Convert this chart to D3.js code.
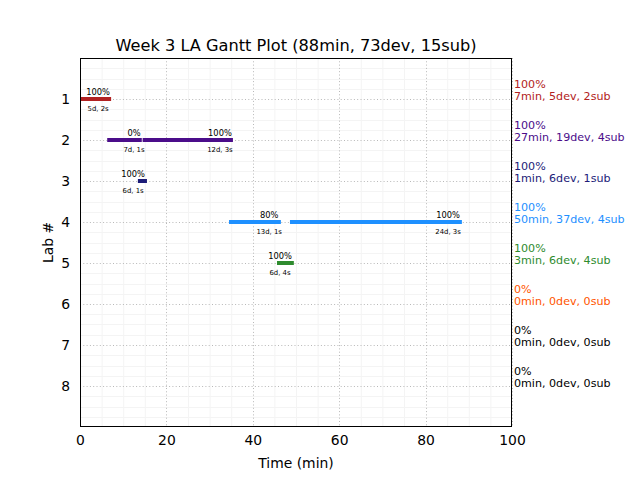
<!DOCTYPE html>
<html><head><meta charset="utf-8">
<script src="https://cdn.jsdelivr.net/npm/d3@7"></script>
<style>body{margin:0;background:#fff;}svg{display:block;font-family:"DejaVu Sans",sans-serif;}</style>
</head><body>
<script>
const labs = [1,2,3,4,5,6,7,8];
const labColors = ["#b22222","#4b0d8a","#1c1c78","#1e90ff","#2e8b2e","#ff5500","#000000","#000000"];
const labPct = ["100%","100%","100%","100%","100%","0%","0%","0%"];
const labMin = [7,27,1,50,3,0,0,0];
const labDev = [5,19,6,37,6,0,0,0];
const labSub = [2,4,1,4,4,0,0,0];

const segLab = [1,2,2,3,4,4,5];
const segStart = [0,6.3,14.5,13.4,34.5,48.6,45.6];
const segEnd = [7.2,14.3,35.4,15.5,46.5,88.4,49.5];
const segPct = ["100%","0%","100%","100%","80%","100%","100%"];
const segDev = [5,7,12,6,13,24,6];
const segSub = [2,1,3,1,1,3,4];
const segLabelAt = [4.2,12.5,32.4,12.3,43.8,85.2,46.3];

const xTicks = [0,20,40,60,80,100];
const yTicks = [1,2,3,4,5,6,7,8];
const title = "Week 3 LA Gantt Plot (88min, 73dev, 15sub)";

const W=640,H=480, L=80,R=512,T=58,B=427;
const svg = d3.select("body").append("svg").attr("width",W).attr("height",H);
const x = d3.scaleLinear().domain([0,100]).range([L,R]);
const y = d3.scaleLinear().domain([0,9]).range([T,B]);

// minor grid
const g = svg.append("g");
g.selectAll(".mx").data(d3.range(0,101,5).filter(v=>v%20!==0)).enter().append("line")
 .attr("x1",d=>x(d)+0.5).attr("x2",d=>x(d)+0.5).attr("y1",T).attr("y2",B)
 .attr("stroke","#f4f4f4").attr("stroke-width",1);
g.selectAll(".my").data(d3.range(0,9.01,0.25).filter(v=>Math.abs(v-Math.round(v))>0.01)).enter().append("line")
 .attr("y1",d=>Math.round(y(d))+0.5).attr("y2",d=>Math.round(y(d))+0.5).attr("x1",L).attr("x2",R)
 .attr("stroke","#f4f4f4").attr("stroke-width",1);
// major grid
g.selectAll(".gx").data(xTicks).enter().append("line")
 .attr("x1",d=>Math.round(x(d))+0.5).attr("x2",d=>Math.round(x(d))+0.5).attr("y1",T).attr("y2",B)
 .attr("stroke","#b0b0b0").attr("stroke-width",0.9).attr("stroke-dasharray","1,2.3");
g.selectAll(".gy").data(yTicks).enter().append("line")
 .attr("y1",d=>Math.round(y(d))+0.5).attr("y2",d=>Math.round(y(d))+0.5).attr("x1",L).attr("x2",R)
 .attr("stroke","#b0b0b0").attr("stroke-width",0.9).attr("stroke-dasharray","1,2.3");

// bars
const segs = segLab.map((l,i)=>({lab:l,s:segStart[i],e:segEnd[i],pct:segPct[i],dev:segDev[i],sub:segSub[i],la:segLabelAt[i]}));
svg.selectAll(".bar").data(segs).enter().append("rect")
 .attr("x",d=>x(d.s)).attr("width",d=>x(d.e)-x(d.s))
 .attr("y",d=>y(d.lab)-2).attr("height",4)
 .attr("fill",d=>labColors[d.lab-1]);
svg.selectAll(".pl").data(segs).enter().append("text")
 .attr("x",d=>x(d.la)).attr("y",d=>y(d.lab)-4.5).attr("text-anchor","middle")
 .attr("font-size",8.3).attr("fill","#000").text(d=>d.pct);
svg.selectAll(".dl").data(segs).enter().append("text")
 .attr("x",d=>x(d.la)).attr("y",d=>y(d.lab)+11.5).attr("text-anchor","middle")
 .attr("font-size",6.9).attr("fill","#000").text(d=>`${d.dev}d, ${d.sub}s`);

// frame
svg.append("rect").attr("x",L+0.5).attr("y",T+0.5).attr("width",R-L-1).attr("height",B-T-1)
 .attr("fill","none").attr("stroke","#000").attr("stroke-width",1);

// axes
const xa = svg.append("g").attr("transform",`translate(0,${B})`)
 .call(d3.axisBottom(x).tickValues(xTicks).tickSize(0).tickPadding(8));
xa.select(".domain").remove();
xa.selectAll("text").attr("font-size",13.9).attr("font-family","DejaVu Sans").attr("fill","#000");
const ya = svg.append("g").attr("transform",`translate(${L},0)`)
 .call(d3.axisLeft(y).tickValues(yTicks).tickSize(0).tickPadding(10));
ya.select(".domain").remove();
ya.selectAll("text").attr("font-size",13.9).attr("font-family","DejaVu Sans").attr("fill","#000");

// right texts
labs.forEach((l,i)=>{
  const t = svg.append("text").attr("x",514).attr("font-size",11.1).attr("fill",labColors[i]);
  t.append("tspan").attr("x",514).attr("y",y(l)-11.5).text(labPct[i]);
  t.append("tspan").attr("x",514).attr("y",y(l)+0.5).text(`${labMin[i]}min, ${labDev[i]}dev, ${labSub[i]}sub`);
});

svg.append("text").attr("x",(L+R)/2).attr("y",51).attr("text-anchor","middle")
 .attr("font-size",16.2).attr("fill","#000").text(title);
svg.append("text").attr("x",(L+R)/2).attr("y",468).attr("text-anchor","middle")
 .attr("font-size",13.9).attr("fill","#000").text("Time (min)");
svg.append("text").attr("transform",`translate(53,${(T+B)/2}) rotate(-90)`).attr("text-anchor","middle")
 .attr("font-size",13.9).attr("fill","#000").text("Lab #");
</script>
</body></html>
